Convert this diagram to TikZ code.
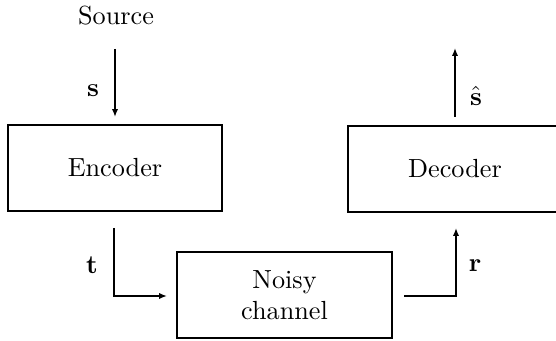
\documentclass[tikz,border=0pt]{standalone}
\usetikzlibrary{arrows.meta}
\begin{document}
\begin{tikzpicture}[x=0.3817pt,y=-0.3817pt,
  blockbox/.style={draw,line width=0.75pt,minimum width=81.7pt,minimum height=32.8pt,inner sep=0pt,align=center},
  flow/.style={line width=0.6pt,-{Latex[length=3pt,width=2.4pt]}},
  plain/.style={line width=0.6pt}]
\useasboundingbox (0,0) rectangle (556,341);
\clip (0,0) rectangle (556,341);
\node[blockbox] (enc) at (115,168) {Encoder};
\node[blockbox] (dec) at (455,169) {Decoder};
\node[blockbox] (ch) at (284.5,295) {Noisy\\channel};
\node (src) at (116,16) {Source};
\coordinate (s0) at (115,49);
\coordinate (s1) at (115,117);
\draw[flow] (s0) -- (s1);
\node at (93,91) {$\mathbf{s}$};
\coordinate (h0) at (455,117);
\coordinate (h1) at (455,48);
\draw[flow] (h0) -- (h1);
\node at (476,96) {$\hat{\mathbf{s}}$};
\coordinate (t0) at (114,228);
\coordinate (t1) at (114,296);
\coordinate (t2) at (167,296);
\draw[flow] (t0) -- (t1) -- (t2);
\node at (92,265) {$\mathbf{t}$};
\coordinate (r0) at (404,296);
\coordinate (r1) at (456,296);
\coordinate (r2) at (456,228);
\draw[flow] (r0) -- (r1) -- (r2);
\node at (475,266) {$\mathbf{r}$};
\end{tikzpicture}
\end{document}
